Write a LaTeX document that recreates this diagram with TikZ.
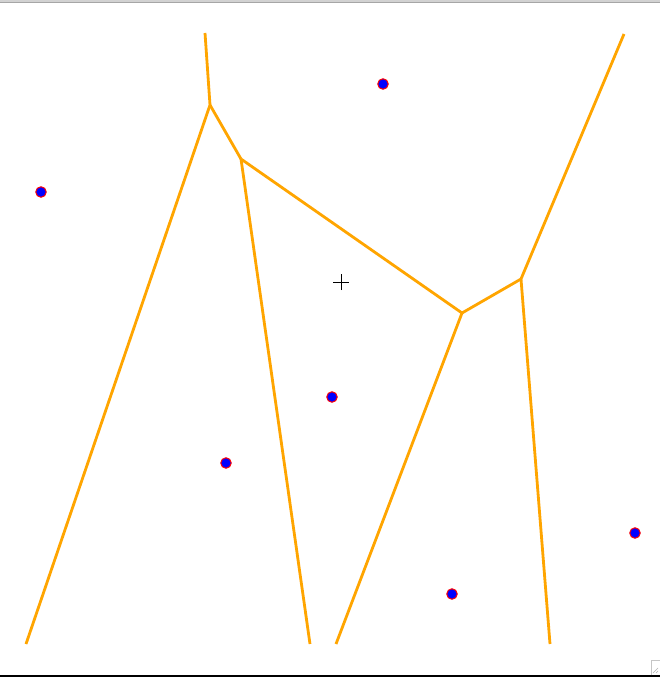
\documentclass[tikz,border=0pt]{standalone}
\begin{document}
\begin{tikzpicture}[x=1pt,y=-1pt,
  edge/.style={draw={rgb,255:red,255;green,165;blue,0},line width=2.8pt,line join=round},
  site/.style={circle,fill=blue,draw=red,line width=1pt,inner sep=0pt,minimum size=10.5pt},
  crossline/.style={draw=black,line width=1pt}]
\useasboundingbox (0,0) rectangle (660,677);
\fill[white] (0,0) rectangle (660,677);
% window frame
\fill[gray!35] (0,0) rectangle (660,2.2);
\draw[gray!70,line width=0.6pt] (0,2.2) -- (660,2.2);
\draw[black,line width=1.6pt] (0,676) -- (660,676);
\draw[gray!45,line width=0.6pt] (651,675) -- (651,660) -- (660,660);
\draw[gray!60,line width=0.5pt] (653,673) -- (658,668) (656,673) -- (658,671);
% Voronoi vertices
\coordinate (t1) at (205,33);
\coordinate (v1) at (210,105);
\coordinate (b1) at (26,644);
\coordinate (v2) at (241,159);
\coordinate (b2) at (310,644);
\coordinate (v3) at (462,313);
\coordinate (b3) at (336,644);
\coordinate (v4) at (521,279);
\coordinate (t2) at (624,34);
\coordinate (b4) at (550,644);
\draw[edge] (t1) -- (v1);
\draw[edge] (v1) -- (b1);
\draw[edge] (v1) -- (v2);
\draw[edge] (v2) -- (b2);
\draw[edge] (v2) -- (v3);
\draw[edge] (v3) -- (b3);
\draw[edge] (v3) -- (v4);
\draw[edge] (v4) -- (t2);
\draw[edge] (v4) -- (b4);
% sites
\node[site] (s1) at (41,192) {};
\node[site] (s2) at (383,84) {};
\node[site] (s3) at (332,397) {};
\node[site] (s4) at (226,463) {};
\node[site] (s5) at (635,533) {};
\node[site] (s6) at (452,594) {};
% crosshair
\coordinate (c) at (341,282);
\draw[crossline] ([xshift=-8pt]c) -- ([xshift=8pt]c);
\draw[crossline] ([yshift=-8pt]c) -- ([yshift=8pt]c);
\end{tikzpicture}
\end{document}
